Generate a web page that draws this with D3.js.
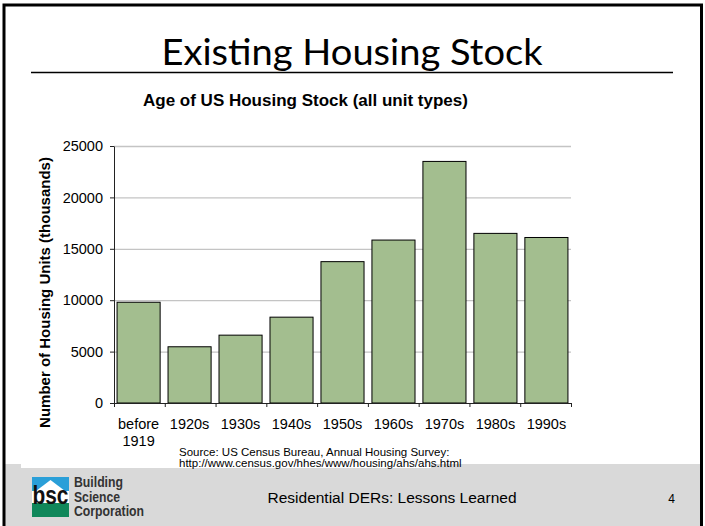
<!DOCTYPE html>
<html>
<head>
<meta charset="utf-8">
<script src="https://cdn.jsdelivr.net/npm/d3@7"></script>
<style>
  body { margin: 0; background: #fff; }
  svg { display: block; }
</style>
</head>
<body>
<div id="chart"></div>
<script>
/* DATA */
const decades = ["before 1919", "1920s", "1930s", "1940s", "1950s", "1960s", "1970s", "1980s", "1990s"];
const units = [9800, 5470, 6600, 8350, 13750, 15850, 23500, 16500, 16100];
const yTicks = [0, 5000, 10000, 15000, 20000, 25000];
const logoWords = ["Building", "Science", "Corporation"];

const width = 705, height = 526;
const plot = { left: 114, right: 571, top: 146, bottom: 403 };
const sans = "'Liberation Sans', Arial, sans-serif";

const svg = d3.select("#chart").append("svg")
  .attr("width", width)
  .attr("height", height);

// slide background + footer band
svg.append("rect").attr("x", 0).attr("y", 0).attr("width", width).attr("height", height).attr("fill", "#fff");
svg.append("rect").attr("x", 4).attr("y", 464).attr("width", 698).attr("height", 62).attr("fill", "#d9d9d9");
svg.append("rect").attr("x", 21).attr("y", 460).attr("width", 410).attr("height", 8).attr("fill", "#fff");

// frame
svg.append("rect")
  .attr("x", 4).attr("y", 5).attr("width", 697.5).attr("height", 530)
  .attr("fill", "none").attr("stroke", "#000").attr("stroke-width", 3);

// slide title
svg.append("text")
  .attr("x", 352).attr("y", 65)
  .attr("text-anchor", "middle")
  .attr("font-family", "Lato, 'Open Sans', sans-serif")
  .attr("font-size", 37)
  .attr("textLength", 381).attr("lengthAdjust", "spacingAndGlyphs")
  .text("Existing Housing Stock");

svg.append("line")
  .attr("x1", 31).attr("x2", 673).attr("y1", 72.5).attr("y2", 72.5)
  .attr("stroke", "#000").attr("stroke-width", 1.3);

// chart title
svg.append("text")
  .attr("x", 143).attr("y", 106)
  .attr("font-family", sans)
  .attr("font-weight", "bold").attr("font-size", 17)
  .text("Age of US Housing Stock (all unit types)");

/* SCALES */
const xScale = d3.scaleBand()
  .domain(decades)
  .range([plot.left, plot.right])
  .paddingInner(0.155)
  .paddingOuter(0.06);

const yScale = d3.scaleLinear()
  .domain([0, 25000])
  .range([plot.bottom, plot.top]);

// gridlines
svg.append("g")
  .attr("transform", `translate(${plot.left},0)`)
  .call(d3.axisLeft(yScale).tickValues(yTicks.slice(1)).tickSize(-(plot.right - plot.left)).tickFormat(""))
  .call(g => g.select(".domain").remove())
  .call(g => g.selectAll("line").attr("stroke", "#c4c4c4").attr("stroke-width", 1.3));

// bars
svg.append("g")
  .selectAll("rect")
  .data(decades)
  .join("rect")
  .attr("x", d => xScale(d))
  .attr("width", xScale.bandwidth())
  .attr("y", (d, i) => yScale(units[i]))
  .attr("height", (d, i) => yScale(0) - yScale(units[i]))
  .attr("fill", "#a3be8f")
  .attr("stroke", "#000")
  .attr("stroke-width", 1);

// y axis
svg.append("g")
  .attr("transform", `translate(${plot.left},0)`)
  .attr("font-family", sans)
  .attr("font-size", 14.5)
  .call(d3.axisLeft(yScale).tickValues(yTicks).tickFormat(d3.format("d")).tickSize(4).tickPadding(7).tickSizeOuter(0))
  .call(g => g.attr("font-family", sans).attr("font-size", 14.5))
  .call(g => g.selectAll(".tick text").attr("fill", "#000"))
  .call(g => g.selectAll("line, .domain").attr("stroke", "#222"));

// x axis: boundary ticks
const edge = d3.scaleLinear().domain([0, decades.length]).range([plot.left, plot.right]);
svg.append("g")
  .attr("transform", `translate(0,${plot.bottom})`)
  .call(d3.axisBottom(edge).tickValues(d3.range(decades.length + 1)).tickSize(4).tickFormat("").tickSizeOuter(0))
  .call(g => g.selectAll("line, .domain").attr("stroke", "#222"));

// x axis: labels
svg.append("g")
  .attr("transform", `translate(0,${plot.bottom})`)
  .call(d3.axisBottom(xScale).tickSize(0).tickPadding(0).tickFormat(""))
  .call(g => g.attr("font-family", sans).attr("font-size", 14.5))
  .call(g => g.select(".domain").remove())
  .call(g => g.selectAll(".tick").each(function(d) {
    const t = d3.select(this).append("text")
      .attr("fill", "#000")
      .attr("text-anchor", "middle");
    d.split(" ").forEach((w, i) => {
      t.append("tspan").attr("x", 0).attr("y", i === 0 ? 26 : 43).text(w);
    });
  }));

// y axis title
svg.append("text")
  .attr("transform", `translate(50,${(plot.top + plot.bottom) / 2 + 18}) rotate(-90)`)
  .attr("text-anchor", "middle")
  .attr("font-family", sans)
  .attr("font-weight", "bold").attr("font-size", 15)
  .text("Number of Housing Units (thousands)");

// source
const src = svg.append("text")
  .attr("font-family", sans)
  .attr("font-size", 11.5);
src.append("tspan").attr("x", 179).attr("y", 456).text("Source: US Census Bureau, Annual Housing Survey:");
src.append("tspan").attr("x", 179).attr("y", 467).text("http://www.census.gov/hhes/www/housing/ahs/ahs.html");

// footer text
svg.append("text")
  .attr("x", 392).attr("y", 503)
  .attr("text-anchor", "middle")
  .attr("font-family", sans)
  .attr("font-size", 15.5)
  .text("Residential DERs: Lessons Learned");

svg.append("text")
  .attr("x", 671.5).attr("y", 503)
  .attr("text-anchor", "middle")
  .attr("font-family", sans)
  .attr("font-size", 12)
  .text("4");

// logo
const logo = svg.append("g").attr("transform", "translate(32,477)");
logo.append("rect").attr("width", 37).attr("height", 40).attr("fill", "#fff");
logo.append("rect").attr("width", 37).attr("height", 14).attr("fill", "#2a9fd8");
logo.append("path").attr("d", "M4,14 L18.5,3 L33,14 Z").attr("fill", "#fff");
logo.append("rect").attr("y", 26).attr("width", 37).attr("height", 14).attr("fill", "#10875a");
logo.append("text")
  .attr("x", 0.5).attr("y", 27)
  .attr("font-family", sans)
  .attr("font-weight", "bold").attr("font-size", 25)
  .attr("textLength", 36).attr("lengthAdjust", "spacingAndGlyphs")
  .attr("fill", "#111")
  .text("bsc");

const logoWidths = [49, 46, 70];
svg.append("g")
  .selectAll("text")
  .data(logoWords)
  .join("text")
  .attr("x", 74)
  .attr("y", (d, i) => 487 + i * 14.6)
  .attr("font-family", sans)
  .attr("font-weight", "bold").attr("font-size", 14)
  .attr("textLength", (d, i) => logoWidths[i]).attr("lengthAdjust", "spacingAndGlyphs")
  .attr("fill", "#333")
  .text(d => d);
</script>
</body>
</html>
